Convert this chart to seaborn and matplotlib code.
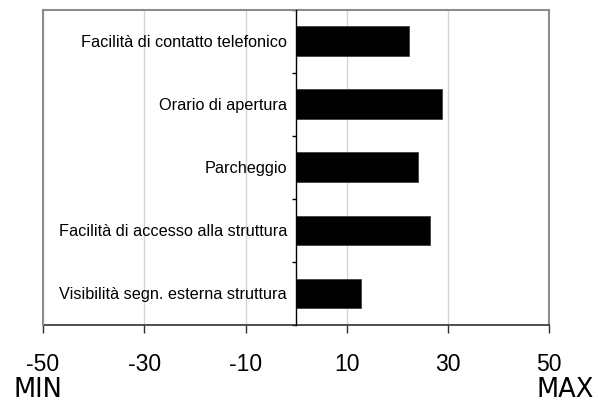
import matplotlib
matplotlib.use("Agg")
import matplotlib.pyplot as plt
import seaborn as sns
import pandas as pd
import numpy as np

categories = [
    "Facilità di contatto telefonico",
    "Orario di apertura",
    "Parcheggio",
    "Facilità di accesso alla struttura",
    "Visibilità segn. esterna struttura",
]
values = [22.3, 28.9, 24.1, 26.4, 12.9]
x_ticks = [-50, -30, -10, 10, 30, 50]
x_tick_labels = ["-50", "-30", "-10", "10", "30", "50"]

sns.set_theme(style="white")
plt.rcParams["font.family"] = ["Liberation Sans", "DejaVu Sans"]
plt.rcParams["text.color"] = "black"
plt.rcParams["xtick.labelcolor"] = "black"
plt.rcParams["ytick.labelcolor"] = "black"

df = pd.DataFrame({"categoria": categories, "valore": values})

fig = plt.figure(figsize=(5.98, 4.04), dpi=100)
ax = fig.add_axes([43 / 598, 1 - 325 / 404, (549.3 - 43) / 598, (325 - 9.5) / 404])

sns.barplot(data=df, x="valore", y="categoria", order=categories, orient="h",
            color="black", edgecolor="#404040", linewidth=0.6, width=0.47,
            saturation=1, ax=ax)

ax.set_xlim(-50, 50)
ax.set_ylim(len(categories) - 0.5, -0.5)
ax.set_xlabel("")
ax.set_ylabel("")

# vertical grid
ax.set_xticks(x_ticks)
ax.set_xticklabels(x_tick_labels, fontsize=16.5)
ax.xaxis.grid(True, color="#d4d4d4", linewidth=1.0)
ax.yaxis.grid(False)
ax.set_axisbelow(True)
ax.tick_params(axis="x", direction="out", length=5.8, width=1.0, color="#303030",
               pad=14.5, bottom=True, labelcolor="black")

# category axis sits on the zero line
ax.spines["left"].set_position(("data", 0))
ax.spines["left"].set_color("black")
ax.spines["left"].set_linewidth(1.0)
ax.spines["left"].set_zorder(5)
ax.spines["bottom"].set_color("#303030")
ax.spines["bottom"].set_linewidth(1.2)
for side in ("top", "right"):
    ax.spines[side].set_color("#8c8c8c")
    ax.spines[side].set_linewidth(1.5)
ax.axvline(-50, color="#8c8c8c", linewidth=1.5, clip_on=False, zorder=4)

ax.tick_params(axis="y", which="major", length=0, pad=6.5, labelsize=11.7,
               labelcolor="black")
ax.set_yticks(np.arange(-0.5, len(categories), 1.0), minor=True)
ax.tick_params(axis="y", which="minor", direction="out", length=3.2, width=1.0,
               color="black", left=True)

fig.text(14 / 598, 1 - 397 / 404, "MIN", fontsize=18.5, family="DejaVu Sans",
         ha="left", va="baseline", color="black")
fig.text(594 / 598, 1 - 397 / 404, "MAX", fontsize=18.5, family="DejaVu Sans",
         ha="right", va="baseline", color="black")

fig.savefig("out.png", dpi=100, facecolor="white")
